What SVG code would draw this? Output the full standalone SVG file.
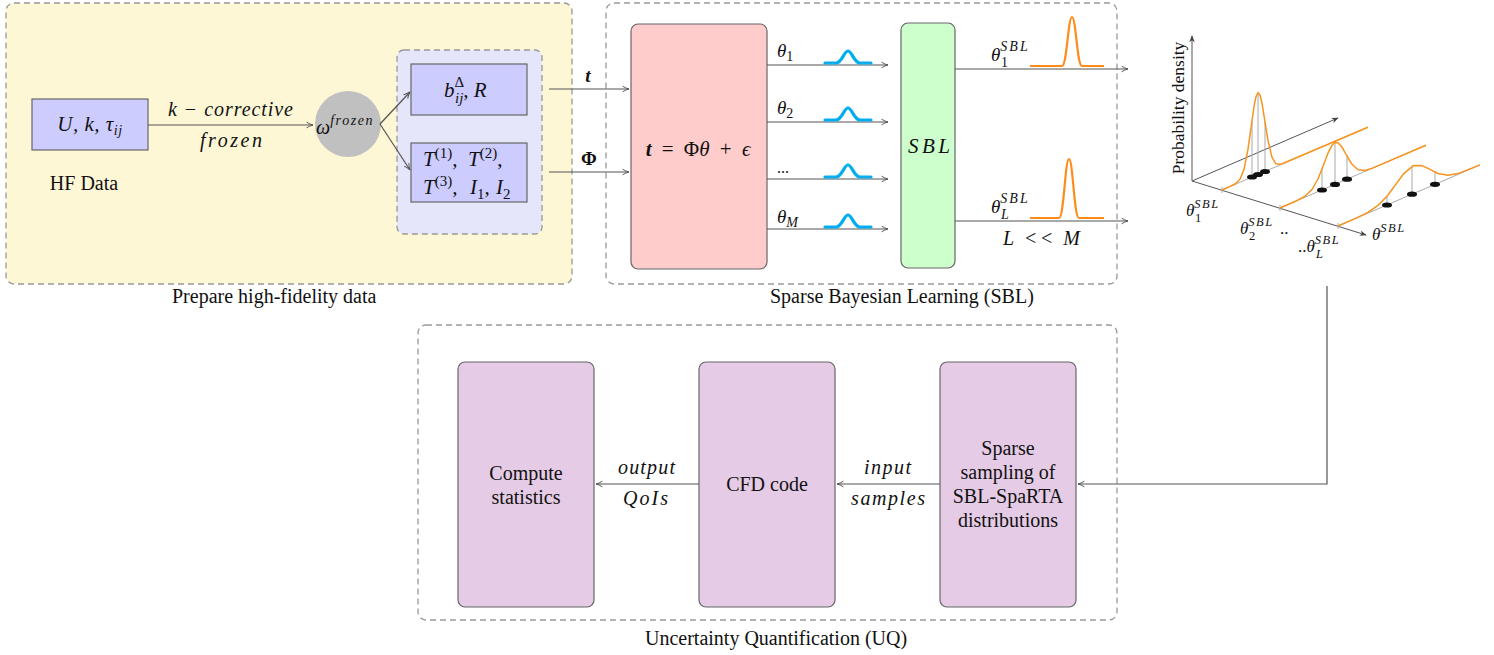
<svg xmlns="http://www.w3.org/2000/svg" width="1494" height="655" viewBox="0 0 1494 655">
<defs>
<marker id="ar" viewBox="0 0 10 10" refX="9" refY="5" markerWidth="8" markerHeight="8" orient="auto" markerUnits="userSpaceOnUse">
<path d="M1,1.5 Q5,4 9,5 Q5,6 1,8.5" fill="none" stroke="#555" stroke-width="1.2"/>
</marker>
<marker id="arf" viewBox="0 0 10 10" refX="9" refY="5" markerWidth="7" markerHeight="7" orient="auto" markerUnits="userSpaceOnUse">
<path d="M0,1 L10,5 L0,9 L3,5 Z" fill="#444"/>
</marker>
<style>
.panel{stroke:#999;stroke-width:1.3;stroke-dasharray:6 4}
.box{stroke:#666;stroke-width:1.2}
.c{fill:none;stroke:#555;stroke-width:1.2}
.t{font-family:"Liberation Serif","DejaVu Serif",serif;fill:#111}
.m{font-family:"Liberation Serif","DejaVu Serif",serif;font-style:italic;fill:#111}
.bump{fill:none;stroke:#00aeef;stroke-width:3.2;stroke-linecap:round}
.pk{fill:none;stroke:#ff8c1a;stroke-width:2.2;stroke-linejoin:round}
.or{fill:none;stroke:#f7941d;stroke-width:1.5;stroke-linejoin:round}
.gl{stroke:#aaa;stroke-width:1}
.ax{fill:none;stroke:#555;stroke-width:1}
</style>
</defs>
<rect width="1494" height="655" fill="#fff"/>

<!-- Panels -->
<g id="panel-hf">
<rect x="6" y="3" width="566" height="281" rx="8" fill="#fdf7d5" class="panel"/>
<text x="172" y="303" class="t" font-size="20">Prepare high-fidelity data</text>
</g>
<g id="panel-sbl">
<rect x="606" y="3" width="511" height="281" rx="8" fill="#fff" class="panel"/>
<text x="770" y="303" class="t" font-size="20">Sparse Bayesian Learning (SBL)</text>
</g>
<g id="panel-uq">
<rect x="418" y="325" width="699" height="295" rx="8" fill="#fff" class="panel"/>
<text x="645" y="645" class="t" font-size="20">Uncertainty Quantification (UQ)</text>
</g>

<!-- Nodes -->
<g id="node-hf">
<rect x="32" y="99" width="116" height="51" fill="#ccccff" class="box"/>
<text x="90" y="131" class="m" font-size="21" text-anchor="middle" letter-spacing="0.5">U, k, τ<tspan font-size="14" dy="4">ij</tspan></text>
<text x="84" y="190" class="t" font-size="20" text-anchor="middle">HF Data</text>
</g>
<g id="node-omega">
<circle cx="348" cy="124" r="33" fill="#c0c0c0"/>
<text x="316" y="134" class="m" font-size="20">ω<tspan font-size="14" dy="-9" letter-spacing="1.6">frozen</tspan></text>
</g>
<g id="node-inputs">
<rect x="397" y="50" width="145" height="184" rx="7" fill="#e6e6fb" class="panel"/>
</g>
<g id="node-b">
<rect x="411" y="64" width="116" height="51" fill="#ccccff" class="box"/>
<text x="444" y="97" class="m" font-size="21">b<tspan font-size="15" font-style="normal" dy="-10">Δ</tspan><tspan font-size="15" x="455" dy="16">ij</tspan><tspan dy="-6">, R</tspan></text>
</g>
<g id="node-T">
<rect x="411" y="143" width="116" height="59" fill="#ccccff" class="box"/>
<text x="423" y="166" class="m" font-size="21">T<tspan font-size="15" font-style="normal" dy="-8">(1)</tspan><tspan dy="8">, </tspan><tspan x="468">T</tspan><tspan font-size="15" font-style="normal" dy="-8">(2)</tspan><tspan font-style="normal" dy="8">,</tspan></text>
<text x="423" y="194" class="m" font-size="21">T<tspan font-size="15" font-style="normal" dy="-8">(3)</tspan><tspan dy="8">, </tspan><tspan x="470">I</tspan><tspan font-size="15" font-style="normal" dy="5">1</tspan><tspan dy="-5">, </tspan><tspan x="496">I</tspan><tspan font-size="15" font-style="normal" dy="5">2</tspan></text>
</g>
<g id="node-model">
<rect x="631" y="24" width="136" height="245" rx="7" fill="#ffcccc" class="box"/>
<text x="698" y="156" class="t" font-size="21" text-anchor="middle" word-spacing="5"><tspan font-style="italic" font-weight="bold">t</tspan> = Φ<tspan font-style="italic">θ</tspan> + <tspan font-style="italic">ϵ</tspan></text>
</g>
<g id="node-sbl">
<rect x="901" y="23" width="54" height="245" rx="7" fill="#ccffcc" class="box"/>
<text x="908" y="153" class="m" font-size="21" textLength="42" lengthAdjust="spacing">SBL</text>
</g>

<g id="node-plot">
<line x1="1192" y1="181" x2="1192" y2="36" class="ax" marker-end="url(#arf)"/>
<line x1="1192" y1="181" x2="1338" y2="118" class="ax" marker-end="url(#arf)"/>
<line x1="1192" y1="181" x2="1366" y2="235" class="ax" marker-end="url(#arf)"/>
<text transform="translate(1184,108) rotate(-90)" class="t" font-size="17.5" text-anchor="middle">Probability density</text>
<line x1="1222" y1="187" x2="1222" y2="193" class="gl"/>
<line x1="1280" y1="205" x2="1280" y2="211" class="gl"/>
<line x1="1338" y1="223" x2="1338" y2="229" class="gl"/>
<line x1="1222" y1="190" x2="1368" y2="127" class="gl"/>
<line x1="1280" y1="208" x2="1426" y2="145" class="gl"/>
<line x1="1338" y1="226" x2="1480" y2="165" class="gl"/>
<line x1="1252" y1="177" x2="1252" y2="121" class="gl"/>
<line x1="1258" y1="174" x2="1258" y2="93" class="gl"/>
<line x1="1265" y1="171" x2="1265" y2="122" class="gl"/>
<line x1="1322" y1="190" x2="1322" y2="169" class="gl"/>
<line x1="1335" y1="184" x2="1335" y2="143" class="gl"/>
<line x1="1347" y1="179" x2="1347" y2="156" class="gl"/>
<line x1="1387" y1="205" x2="1387" y2="196" class="gl"/>
<line x1="1412" y1="194" x2="1412" y2="166" class="gl"/>
<line x1="1435" y1="184" x2="1435" y2="172" class="gl"/>
<polyline class="or" points="1222,190 1230,186.4 1235,184 1240,179.3 1244,169.4 1248,149.2 1251,127.8 1254,106.6 1256,96.7 1258,92.5 1260,95 1262,103.2 1265,121.8 1268,140.7 1272,157.4 1276,163.8 1281,164.2 1368,127.2"/>
<polyline class="or" points="1280,208 1295,201.5 1305,196.3 1312,189.5 1318,179 1323,166.3 1328,153.1 1332,145.2 1335,142.4 1338,142.7 1342,147.1 1347,156 1352,164.3 1358,169.8 1365,170.5 1372,168.4 1426,145.2"/>
<polyline class="or" points="1338,226 1355,218.6 1368,212.3 1378,205.4 1388,195 1396,184.1 1404,173.3 1413,165.8 1422,165.6 1430,169.4 1438,173.5 1448,175.3 1458,173.6 1480,164.9"/>
<g fill="#111">
<ellipse cx="1252" cy="177" rx="5" ry="2.6"/>
<ellipse cx="1258" cy="174.5" rx="5" ry="2.6"/>
<ellipse cx="1265" cy="171.5" rx="5" ry="2.6"/>
<ellipse cx="1322" cy="190" rx="5" ry="2.6"/>
<ellipse cx="1335" cy="184.4" rx="5" ry="2.6"/>
<ellipse cx="1347" cy="179.2" rx="5" ry="2.6"/>
<ellipse cx="1387" cy="205" rx="5" ry="2.6"/>
<ellipse cx="1412" cy="194.2" rx="5" ry="2.6"/>
<ellipse cx="1435" cy="184.3" rx="5" ry="2.6"/>
</g>
<text x="1186" y="216" class="m" font-size="17">θ<tspan font-size="12.5" dy="-8" letter-spacing="1.5">SBL</tspan><tspan font-size="12.5" font-style="normal" x="1195" dy="14">1</tspan></text>
<text x="1240" y="234" class="m" font-size="17">θ<tspan font-size="12.5" dy="-8" letter-spacing="1.5">SBL</tspan><tspan font-size="12.5" font-style="normal" x="1249" dy="14">2</tspan><tspan font-style="normal" x="1280" dy="-6">..</tspan></text>
<text x="1298" y="252" class="m" font-size="17"><tspan font-style="normal">..</tspan>θ<tspan font-size="12.5" dy="-8" letter-spacing="1.5">SBL</tspan><tspan font-size="12.5" x="1316" dy="14">L</tspan></text>
<text x="1372" y="240" class="m" font-size="17">θ<tspan font-size="12.5" dy="-8" letter-spacing="1.5">SBL</tspan></text>
</g>

<g id="node-stats">
<rect x="458" y="362" width="136" height="245" rx="7" fill="#e5cbe6" class="box"/>
<text x="526" y="480" class="t" font-size="20" text-anchor="middle">Compute</text>
<text x="526" y="504" class="t" font-size="20" text-anchor="middle">statistics</text>
</g>
<g id="node-cfd">
<rect x="699" y="362" width="136" height="245" rx="7" fill="#e5cbe6" class="box"/>
<text x="767" y="491" class="t" font-size="20" text-anchor="middle">CFD code</text>
</g>
<g id="node-sampling">
<rect x="940" y="362" width="136" height="245" rx="7" fill="#e5cbe6" class="box"/>
<text x="1008" y="455" class="t" font-size="20" text-anchor="middle">Sparse</text>
<text x="1008" y="479" class="t" font-size="20" text-anchor="middle">sampling of</text>
<text x="1008" y="503" class="t" font-size="20" text-anchor="middle">SBL-SpaRTA</text>
<text x="1008" y="527" class="t" font-size="20" text-anchor="middle">distributions</text>
</g>

<!-- Connectors -->
<g id="connectors">
<line x1="148" y1="125" x2="313" y2="125" class="c" marker-end="url(#ar)"/>
<line x1="380" y1="124" x2="410" y2="92" class="c" marker-end="url(#ar)"/>
<line x1="380" y1="124" x2="410" y2="170" class="c" marker-end="url(#ar)"/>
<line x1="549" y1="89" x2="629" y2="89" class="c" marker-end="url(#ar)"/>
<line x1="549" y1="172" x2="629" y2="172" class="c" marker-end="url(#ar)"/>
<line x1="767" y1="65" x2="888" y2="65" class="c" marker-end="url(#ar)"/>
<line x1="767" y1="122" x2="888" y2="122" class="c" marker-end="url(#ar)"/>
<line x1="767" y1="179" x2="888" y2="179" class="c" marker-end="url(#ar)"/>
<line x1="767" y1="229" x2="888" y2="229" class="c" marker-end="url(#ar)"/>
<line x1="955" y1="69" x2="1128" y2="69" class="c" marker-end="url(#ar)"/>
<line x1="955" y1="221" x2="1128" y2="221" class="c" marker-end="url(#ar)"/>
<polyline points="1327,286 1327,484 1078,484" class="c" marker-end="url(#ar)"/>
<line x1="940" y1="484" x2="837" y2="484" class="c" marker-end="url(#ar)"/>
<line x1="699" y1="484" x2="596" y2="484" class="c" marker-end="url(#ar)"/>
<text x="168" y="116" class="m" font-size="20" textLength="125" lengthAdjust="spacing">k − corrective</text>
<text x="200" y="147" class="m" font-size="20" textLength="62" lengthAdjust="spacing">frozen</text>
<text x="588" y="82" class="m" font-size="19" font-weight="bold" text-anchor="middle">t</text>
<text x="589" y="165" class="t" font-size="19" font-weight="bold" text-anchor="middle">Φ</text>
<text x="777" y="57" class="m" font-size="19">θ<tspan font-size="14" font-style="normal" dy="4">1</tspan></text>
<text x="777" y="114" class="m" font-size="19">θ<tspan font-size="14" font-style="normal" dy="4">2</tspan></text>
<text x="777" y="173" class="t" font-size="16">...</text>
<text x="777" y="223" class="m" font-size="19">θ<tspan font-size="14" dy="4">M</tspan></text>
<text x="991" y="61" class="m" font-size="19">θ<tspan font-size="14" dy="-10" letter-spacing="2">SBL</tspan><tspan font-size="14" font-style="normal" x="1001" dy="16">1</tspan></text>
<text x="991" y="213" class="m" font-size="19">θ<tspan font-size="14" dy="-10" letter-spacing="2">SBL</tspan><tspan font-size="14" x="1001" dy="16">L</tspan></text>
<text x="1003" y="245" class="m" font-size="20" textLength="77" lengthAdjust="spacing">L &lt;&lt; M</text>
<text x="618" y="474" class="m" font-size="20" textLength="57" lengthAdjust="spacing">output</text>
<text x="623" y="505" class="m" font-size="20" textLength="45" lengthAdjust="spacing">QoIs</text>
<text x="864" y="474" class="m" font-size="20" textLength="47" lengthAdjust="spacing">input</text>
<text x="851" y="505" class="m" font-size="20" textLength="74" lengthAdjust="spacing">samples</text>
<path class="bump" d="M825,63 L836,63 C842,63 844,51 848,51 C852,51 854,63 860,63 L871,63"/>
<path class="bump" d="M825,120 L836,120 C842,120 844,108 848,108 C852,108 854,120 860,120 L871,120"/>
<path class="bump" d="M825,177 L836,177 C842,177 844,165 848,165 C852,165 854,177 860,177 L871,177"/>
<path class="bump" d="M825,227 L836,227 C842,227 844,215 848,215 C852,215 854,227 860,227 L871,227"/>
<path class="pk" d="M1030,66 L1062,66 C1067,66 1068,17 1072,17 C1076,17 1077,66 1082,66 L1104,66"/>
<path class="pk" d="M1030,218 L1059,218 C1064,218 1065,159 1069,159 C1073,159 1074,218 1079,218 L1104,218"/>
</g>
</svg>
